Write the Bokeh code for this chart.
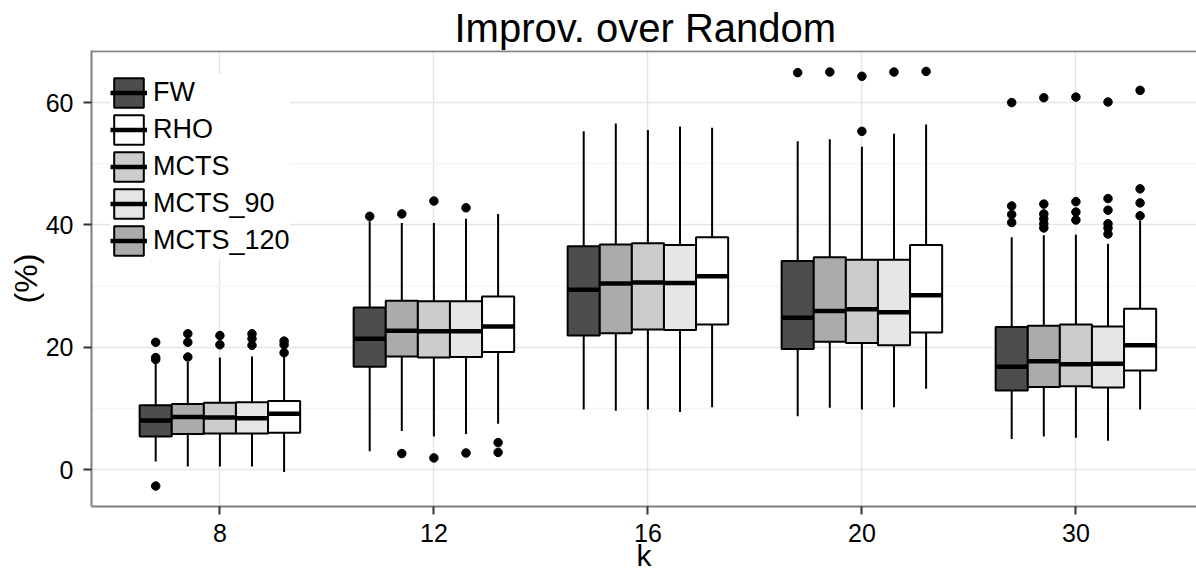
import numpy as np
from bokeh.plotting import figure
from bokeh.models import Range1d, FixedTicker, Legend, LegendItem, Span, Title
from bokeh.embed import file_html
from bokeh.resources import INLINE

# ---------------- data ----------------
k_labels = ["8", "12", "16", "20", "30"]
legend_order = ["FW", "RHO", "MCTS", "MCTS_90", "MCTS_120"]
plot_order = ["FW", "MCTS_120", "MCTS", "MCTS_90", "RHO"]

fw_lower = [1.3, 3.0, 9.8, 8.7, 5.0]
fw_q1 = [5.4, 16.8, 21.9, 19.7, 12.9]
fw_med = [8.0, 21.4, 29.4, 24.8, 16.8]
fw_q3 = [10.5, 26.5, 36.5, 34.1, 23.3]
fw_upper = [17.4, 40.6, 55.3, 53.7, 38.0]
fw_out = [[-2.7, 18.0, 18.3, 20.8], [41.4], [], [64.9], [40.4, 41.7, 43.1, 60.0]]

m120_lower = [0.5, 6.3, 9.6, 10.1, 5.4]
m120_q1 = [5.8, 18.5, 22.3, 20.9, 13.5]
m120_med = [8.6, 22.7, 30.4, 25.9, 17.7]
m120_q3 = [10.7, 27.6, 36.8, 34.7, 23.5]
m120_upper = [17.6, 40.3, 56.6, 54.0, 38.3]
m120_out = [[18.4, 20.8, 22.2], [2.6, 41.8], [], [65.0], [39.5, 40.2, 41.0, 41.8, 43.4, 60.8]]

mcts_lower = [0.5, 5.4, 9.8, 9.8, 5.2]
mcts_q1 = [5.9, 18.3, 22.9, 20.7, 13.6]
mcts_med = [8.5, 22.6, 30.6, 26.2, 17.2]
mcts_q3 = [10.9, 27.5, 37.0, 34.3, 23.7]
mcts_upper = [18.3, 40.3, 55.5, 52.8, 38.4]
mcts_out = [[20.4, 21.9], [1.9, 43.9], [], [55.3, 64.3], [40.8, 42.1, 43.8, 60.9]]

m90_lower = [0.5, 5.8, 9.4, 10.2, 4.7]
m90_q1 = [5.9, 18.4, 22.8, 20.3, 13.4]
m90_med = [8.4, 22.6, 30.5, 25.7, 17.3]
m90_q3 = [11.0, 27.5, 36.7, 34.3, 23.4]
m90_upper = [18.5, 41.0, 56.1, 54.9, 36.9]
m90_out = [[20.3, 21.4, 22.2], [2.7, 42.8], [], [65.0], [38.5, 39.5, 40.2, 42.4, 44.3, 60.1]]

rho_lower = [-0.4, 7.5, 10.2, 13.2, 9.8]
rho_q1 = [6.0, 19.2, 23.7, 22.4, 16.2]
rho_med = [9.1, 23.4, 31.6, 28.5, 20.3]
rho_q3 = [11.2, 28.3, 38.0, 36.7, 26.3]
rho_upper = [18.4, 41.8, 55.9, 56.4, 40.7]
rho_out = [[19.1, 20.4, 21.0], [2.8, 4.4], [], [65.1], [41.5, 43.6, 45.9, 62.0]]

stats = {
    "FW": (fw_lower, fw_q1, fw_med, fw_q3, fw_upper, fw_out),
    "MCTS_120": (m120_lower, m120_q1, m120_med, m120_q3, m120_upper, m120_out),
    "MCTS": (mcts_lower, mcts_q1, mcts_med, mcts_q3, mcts_upper, mcts_out),
    "MCTS_90": (m90_lower, m90_q1, m90_med, m90_q3, m90_upper, m90_out),
    "RHO": (rho_lower, rho_q1, rho_med, rho_q3, rho_upper, rho_out),
}

fills = {"FW": "#4d4d4d", "MCTS_120": "#ababab", "MCTS": "#cccccc",
         "MCTS_90": "#e6e6e6", "RHO": "#ffffff"}

FONT = "Liberation Sans"

# ---------------- figure ----------------
W, H = 1196, 575
B_LEFT, B_TOP, B_BOTTOM = 91, 50, 69
px_per_cat = 214.0
frame_w = W - B_LEFT
y_lo, y_hi = -6.05, 68.52

title = Title(text="Improv. over Random", align="left", offset=363,
              text_font=FONT, text_font_size="40px", text_font_style="normal",
              text_color="black", standoff=2, vertical_align="bottom")

p = figure(width=W, height=H, title=title,
           x_range=Range1d(0.4, 0.4 + frame_w / px_per_cat),
           y_range=Range1d(y_lo, y_hi),
           output_backend="svg", toolbar_location=None,
           min_border_left=B_LEFT, min_border_right=0,
           min_border_top=B_TOP, min_border_bottom=B_BOTTOM)
p.outline_line_color = None
p.background_fill_color = "white"
p.border_fill_color = "white"

# grids
p.xgrid.ticker = FixedTicker(ticks=[1, 2, 3, 4, 5])
p.xgrid.grid_line_color = "#e5e5e5"
p.xgrid.grid_line_width = 1.5
p.ygrid.ticker = FixedTicker(ticks=[0, 20, 40, 60], minor_ticks=[10, 30, 50])
p.ygrid.grid_line_color = "#e5e5e5"
p.ygrid.grid_line_width = 1.5
p.ygrid.minor_grid_line_color = "#f4f4f4"
p.ygrid.minor_grid_line_width = 1.5

# axes
for ax in (p.xaxis[0], p.yaxis[0]):
    ax.axis_line_color = "#7f7f7f"
    ax.axis_line_width = 2
    ax.major_tick_line_color = "#333333"
    ax.major_tick_line_width = 2
    ax.major_tick_out = 8
    ax.major_tick_in = 0
    ax.minor_tick_line_color = None
    ax.major_label_text_font = FONT
    ax.major_label_text_font_size = "25px"
    ax.major_label_text_color = "black"
    ax.axis_label_text_font = FONT
    ax.axis_label_text_font_style = "normal"
    ax.axis_label_text_color = "black"

p.xaxis[0].ticker = FixedTicker(ticks=[1, 2, 3, 4, 5])
p.xaxis[0].major_label_overrides = {i + 1: lab for i, lab in enumerate(k_labels)}
p.xaxis[0].major_label_standoff = 9
p.xaxis[0].axis_label = "k"
p.xaxis[0].axis_label_text_font_size = "30px"
p.xaxis[0].axis_label_standoff = -6

p.yaxis[0].ticker = FixedTicker(ticks=[0, 20, 40, 60])
p.yaxis[0].major_label_standoff = 10
p.yaxis[0].axis_label = "(%)"
p.yaxis[0].axis_label_text_font_size = "32px"
p.yaxis[0].axis_label_standoff = -1

# top border of the panel
p.add_layout(Span(location=y_hi - 0.12, dimension="width",
                  line_color="#7f7f7f", line_width=2))

# ---------------- boxes ----------------
offsets = [-0.3, -0.15, 0.0, 0.15, 0.3]
box_w = 0.15
group_x = np.arange(1, len(k_labels) + 1, dtype=float)

box_r = {}
med_r = {}
for off, name in zip(offsets, plot_order):
    lower, q1, med, q3, upper, outs = stats[name]
    xs = group_x + off
    p.segment(x0=xs, y0=q3, x1=xs, y1=upper, line_color="black", line_width=2)
    p.segment(x0=xs, y0=q1, x1=xs, y1=lower, line_color="black", line_width=2)
    box_r[name] = p.vbar(x=xs, width=box_w, top=q3, bottom=q1,
                         fill_color=fills[name], line_color="black", line_width=2)
    med_r[name] = p.segment(x0=xs - box_w / 2, y0=med, x1=xs + box_w / 2, y1=med,
                            line_color="black", line_width=4.5)
    ox = [xs[i] for i, grp in enumerate(outs) for _ in grp]
    oy = [v for grp in outs for v in grp]
    p.scatter(x=ox, y=oy, size=8.5, marker="circle", color="black")

# ---------------- legend ----------------
legend = Legend(items=[LegendItem(label=n, renderers=[box_r[n], med_r[n]]) for n in legend_order],
                location=(19, 247), padding=10, spacing=0, margin=0,
                glyph_width=37, glyph_height=37, label_standoff=6,
                label_text_font=FONT, label_text_font_size="27px",
                label_text_color="black", label_text_baseline="middle",
                border_line_color=None, background_fill_color="white",
                background_fill_alpha=1.0)
p.add_layout(legend)

open("out.html", "w").write(file_html(p, INLINE))
